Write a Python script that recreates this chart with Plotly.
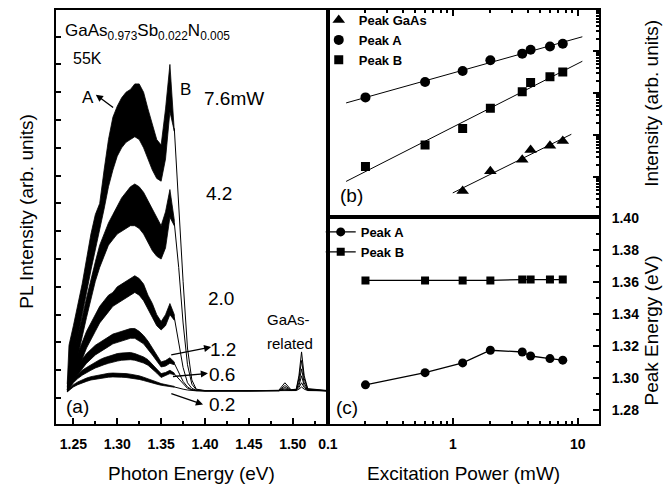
import numpy as np
import plotly.graph_objects as go

W, H = 664, 487
FONT = "Liberation Sans, Arial, sans-serif"

def X(px):
    return px / W

def Y(py):
    return 1 - py / H

# ---------------- (a) PL spectra ----------------
E_band = [1.243, 1.245, 1.25, 1.255, 1.26, 1.265, 1.27, 1.275, 1.28, 1.285, 1.29, 1.295, 1.30,
          1.305, 1.31, 1.315, 1.32, 1.325, 1.33, 1.335, 1.34, 1.345, 1.35, 1.355, 1.36, 1.365]

up_76 = [0.5, 1.9, 2.6, 3.3, 4.1, 5.0, 5.9, 6.6, 7.0, 8.2, 9.3, 10.1, 10.5, 10.8, 11.0, 11.1, 11.3, 11.3, 11.0, 10.4, 9.8, 9.3, 9.1, 10.4, 12.0, 9.8]
lo_76 = [0.3, 0.6, 1.4, 2.2, 3.0, 3.8, 4.6, 5.4, 6.1, 6.8, 7.6, 8.2, 8.7, 9.0, 9.2, 9.3, 9.4, 9.3, 9.0, 8.6, 8.2, 7.9, 7.8, 8.6, 10.3, 9.6]
up_42 = [0.4, 1.0, 1.6, 2.2, 2.9, 3.6, 4.3, 4.9, 5.5, 5.9, 6.3, 6.6, 6.9, 7.2, 7.4, 7.6, 7.7, 7.6, 7.4, 7.1, 6.8, 6.5, 6.2, 6.7, 7.5, 6.4]
lo_42 = [0.3, 0.45, 0.95, 1.5, 2.2, 2.9, 3.6, 4.2, 4.7, 5.1, 5.5, 5.7, 5.9, 6.0, 6.1, 6.2, 6.2, 6.1, 5.9, 5.6, 5.3, 5.1, 5.0, 5.4, 6.5, 6.2]
up_20 = [0.35, 0.7, 1.2, 1.6, 2.0, 2.4, 2.7, 3.0, 3.3, 3.5, 3.7, 3.8, 4.0, 4.1, 4.2, 4.3, 4.4, 4.3, 4.1, 3.7, 3.4, 3.0, 2.75, 3.0, 3.4, 3.0]
lo_20 = [0.25, 0.4, 0.7, 1.0, 1.4, 1.8, 2.1, 2.4, 2.7, 2.9, 3.1, 3.3, 3.4, 3.5, 3.6, 3.7, 3.8, 3.7, 3.5, 3.2, 2.9, 2.6, 2.45, 2.6, 3.0, 2.8]
up_12 = [0.3, 0.5, 0.9, 1.15, 1.4, 1.6, 1.75, 1.9, 2.0, 2.1, 2.2, 2.3, 2.35, 2.4, 2.45, 2.5, 2.5, 2.4, 2.25, 2.05, 1.8, 1.55, 1.3, 1.35, 1.45, 1.3]
lo_12 = [0.25, 0.35, 0.65, 0.85, 1.05, 1.25, 1.4, 1.55, 1.65, 1.75, 1.85, 1.95, 2.0, 2.05, 2.1, 2.15, 2.15, 2.05, 1.95, 1.75, 1.55, 1.35, 1.12, 1.15, 1.25, 1.2]
up_06 = [0.28, 0.4, 0.7, 0.85, 1.0, 1.1, 1.2, 1.3, 1.38, 1.45, 1.5, 1.55, 1.6, 1.62, 1.64, 1.64, 1.6, 1.55, 1.48, 1.38, 1.22, 1.05, 0.88, 0.92, 1.0, 0.9]
lo_06 = [0.22, 0.3, 0.55, 0.7, 0.82, 0.92, 1.0, 1.08, 1.15, 1.2, 1.25, 1.3, 1.33, 1.36, 1.38, 1.38, 1.36, 1.32, 1.26, 1.18, 1.05, 0.9, 0.74, 0.8, 0.88, 0.84]
up_02 = [0.25, 0.32, 0.48, 0.58, 0.66, 0.72, 0.77, 0.8, 0.84, 0.87, 0.89, 0.9, 0.9, 0.89, 0.88, 0.86, 0.84, 0.8, 0.75, 0.7, 0.64, 0.58, 0.52, 0.48, 0.45, 0.42]
lo_02 = [0.22, 0.26, 0.4, 0.48, 0.55, 0.6, 0.65, 0.68, 0.7, 0.73, 0.75, 0.76, 0.76, 0.75, 0.74, 0.72, 0.7, 0.67, 0.63, 0.6, 0.55, 0.5, 0.46, 0.43, 0.41, 0.39]

E_tail = [1.365, 1.37, 1.375, 1.38, 1.385, 1.39, 1.40, 1.45, 1.484, 1.491, 1.498, 1.504, 1.507, 1.510, 1.513, 1.517, 1.54]
tail_76 = [9.7, 6.9, 4.2, 1.8, 0.65, 0.32, 0.27, 0.26, 0.28, 0.55, 0.3, 0.32, 0.8, 1.66, 0.8, 0.34, 0.27]
tail_42 = [6.3, 4.7, 2.7, 1.2, 0.5, 0.3, 0.26, 0.26, 0.27, 0.45, 0.29, 0.31, 0.7, 1.35, 0.7, 0.32, 0.26]
tail_20 = [2.9, 2.0, 1.1, 0.55, 0.35, 0.28, 0.26, 0.26, 0.27, 0.38, 0.28, 0.3, 0.55, 1.05, 0.55, 0.3, 0.26]
tail_12 = [1.25, 0.95, 0.6, 0.4, 0.3, 0.27, 0.26, 0.26, 0.27, 0.33, 0.27, 0.29, 0.45, 0.8, 0.45, 0.29, 0.26]
tail_06 = [0.87, 0.7, 0.5, 0.35, 0.3, 0.27, 0.26, 0.26, 0.26, 0.3, 0.27, 0.28, 0.38, 0.55, 0.38, 0.28, 0.26]
tail_02 = [0.4, 0.35, 0.32, 0.29, 0.27, 0.26, 0.26, 0.26, 0.26, 0.28, 0.26, 0.27, 0.32, 0.4, 0.32, 0.27, 0.26]

spectra = [(up_76, lo_76, tail_76), (up_42, lo_42, tail_42), (up_20, lo_20, tail_20),
           (up_12, lo_12, tail_12), (up_06, lo_06, tail_06), (up_02, lo_02, tail_02)]

energy_ticks = [1.25, 1.30, 1.35, 1.40, 1.45, 1.50]
energy_minor = [1.275, 1.325, 1.375, 1.425, 1.475, 1.525]

# ---------------- (b),(c) power dependence ----------------
power = [0.2, 0.6, 1.2, 2.0, 3.6, 4.2, 6.0, 7.6]
int_A = [800, 1870, 3390, 6150, 8830, 10960, 13090, 15170]
int_B = [18, 59, 145, 443, 1090, 1800, 2500, 3210]
power_gaas = [1.2, 2.0, 3.6, 4.2, 6.0, 7.6]
int_gaas = [4.7, 13.9, 26.2, 45.0, 56.8, 73.1]
fit_range_AB = [0.14, 10.9]
fit_range_gaas = [1.0, 8.9]

energy_A = [1.2958, 1.3034, 1.3095, 1.3174, 1.3163, 1.3138, 1.3122, 1.3112]
energy_B = [1.361, 1.361, 1.361, 1.361, 1.3615, 1.3615, 1.3615, 1.3615]

power_ticks = [0.1, 1, 10]
power_ticktext = ["0.1", "1", "10"]
power_minor = [0.2, 0.3, 0.4, 0.5, 0.6, 0.7, 0.8, 0.9, 2, 3, 4, 5, 6, 7, 8, 9]
int_major = [1, 10, 100, 1000, 10000]
int_minor = [m * d for d in [1, 10, 100, 1000, 10000] for m in range(2, 10)]
pe_ticks = [1.28, 1.30, 1.32, 1.34, 1.36, 1.38, 1.40]

fig = go.Figure()

for up, lo, tail in spectra:
    fig.add_trace(go.Scatter(x=E_band + E_band[::-1], y=up + lo[::-1], fill="toself",
                             fillcolor="black", mode="lines", line=dict(color="black", width=0.8),
                             showlegend=False, xaxis="x", yaxis="y", hoverinfo="skip"))
    fig.add_trace(go.Scatter(x=E_tail, y=tail, mode="lines", line=dict(color="black", width=1),
                             showlegend=False, xaxis="x", yaxis="y", hoverinfo="skip"))

# fits (log-log)
def fit_line(px_, py_, rng):
    k, b = np.polyfit(np.log10(px_), np.log10(py_), 1)
    xs = np.array(rng)
    return xs, 10 ** (k * np.log10(xs) + b)

for px_, py_, rng in [(power, int_A, fit_range_AB), (power, int_B, fit_range_AB),
                      (power_gaas, int_gaas, fit_range_gaas)]:
    fx, fy = fit_line(px_, py_, rng)
    fig.add_trace(go.Scatter(x=fx, y=fy, mode="lines", line=dict(color="black", width=1),
                             showlegend=False, xaxis="x2", yaxis="y2"))

fig.add_trace(go.Scatter(x=power_gaas, y=int_gaas, mode="markers", name="Peak GaAs",
                         marker=dict(symbol="triangle-up", size=11, color="black"),
                         xaxis="x2", yaxis="y2", legend="legend"))
fig.add_trace(go.Scatter(x=power, y=int_A, mode="markers", name="Peak A",
                         marker=dict(symbol="circle", size=10, color="black"),
                         xaxis="x2", yaxis="y2", legend="legend"))
fig.add_trace(go.Scatter(x=power, y=int_B, mode="markers", name="Peak B",
                         marker=dict(symbol="square", size=9, color="black"),
                         xaxis="x2", yaxis="y2", legend="legend"))

fig.add_trace(go.Scatter(x=power, y=energy_A, mode="lines+markers", name="Peak A",
                         marker=dict(symbol="circle", size=9, color="black"),
                         line=dict(color="black", width=1.3),
                         xaxis="x3", yaxis="y3", legend="legend2"))
fig.add_trace(go.Scatter(x=power, y=energy_B, mode="lines+markers", name="Peak B",
                         marker=dict(symbol="square", size=8, color="black"),
                         line=dict(color="black", width=1.3),
                         xaxis="x3", yaxis="y3", legend="legend2"))

axis_common = dict(showline=True, linecolor="black", linewidth=2, mirror=True,
                   showgrid=False, zeroline=False, ticks="inside", tickcolor="black",
                   tickwidth=1.5)
tickfont = dict(family=FONT, size=14, color="black", weight="bold")
legfont = dict(family=FONT, size=13, color="black", weight="bold")

fig.update_layout(
    width=W, height=H, margin=dict(l=0, r=0, t=0, b=0),
    paper_bgcolor="white", plot_bgcolor="white",
    font=dict(family=FONT, color="black"),
    xaxis=dict(domain=[X(48), X(323)], range=[1.2306, 1.5397], anchor="y",
               tickvals=energy_ticks, ticktext=[f"{v:.2f}" for v in energy_ticks],
               ticklen=6, tickfont=tickfont, ticklabelstandoff=6,
               minor=dict(tickvals=energy_minor, ticklen=3, ticks="inside", tickcolor="black", tickwidth=1.5),
               **axis_common),
    yaxis=dict(domain=[Y(423), Y(3)], range=[-0.93, 13.96], anchor="x",
               tickvals=list(range(0, 14)), ticklen=5, showticklabels=False, **axis_common),
    xaxis2=dict(domain=[X(323), X(598)], type="log", range=[-1.002, 1.17], anchor="y2", side="top",
                tickvals=power_ticks, ticklen=6, showticklabels=False,
                minor=dict(tickvals=power_minor, ticklen=3, ticks="inside", tickcolor="black", tickwidth=1.5),
                **axis_common),
    yaxis2=dict(domain=[Y(213), Y(3)], type="log", range=[0.056, 4.986], anchor="x2", side="right",
                tickvals=int_major, ticklen=6, showticklabels=False,
                minor=dict(tickvals=int_minor, ticklen=3, ticks="inside", tickcolor="black", tickwidth=1.5),
                **axis_common),
    xaxis3=dict(domain=[X(323), X(598)], type="log", range=[-1.002, 1.17], anchor="y3",
                tickvals=power_ticks, ticktext=power_ticktext, ticklen=6, tickfont=tickfont,
                ticklabelstandoff=6,
                minor=dict(tickvals=power_minor, ticklen=3, ticks="inside", tickcolor="black", tickwidth=1.5),
                **axis_common),
    yaxis3=dict(domain=[Y(423), Y(213)], range=[1.2714, 1.4006], anchor="x3", side="right",
                tickvals=pe_ticks, ticktext=[f"{v:.2f}" for v in pe_ticks], ticklen=6,
                tickfont=tickfont, ticklabelstandoff=8,
                minor=dict(dtick=0.01, tick0=1.27, ticklen=3, ticks="inside", tickcolor="black", tickwidth=1.5),
                **axis_common),
    legend=dict(x=X(314), y=Y(-2), xanchor="left", yanchor="top", bgcolor="rgba(0,0,0,0)",
                font=legfont, tracegroupgap=0),
    legend2=dict(x=X(316), y=Y(213), xanchor="left", yanchor="top", bgcolor="rgba(0,0,0,0)",
                 font=legfont, tracegroupgap=0),
)

def txt(text, x, y, size, xanchor="center", angle=0, weight="normal"):
    fig.add_annotation(text=text, x=X(x), y=Y(y), xref="paper", yref="paper", showarrow=False,
                       xanchor=xanchor, yanchor="middle", textangle=angle,
                       font=dict(family=FONT, size=size, color="black", weight=weight))

def arrow(hx, hy, tx, ty):
    fig.add_annotation(text=" ", x=X(hx), y=Y(hy), xref="paper", yref="paper", showarrow=True,
                       ax=tx - hx, ay=ty - hy, arrowhead=2, arrowsize=1.1, arrowwidth=1.3,
                       arrowcolor="black", standoff=0, font=dict(size=2))

txt("GaAs<sub>0.973</sub>Sb<sub>0.022</sub>N<sub>0.005</sub>", 55, 25, 17, xanchor="left")
txt("55K", 80, 52.5, 16)
txt("A", 80, 92, 17)
txt("B", 179, 84, 17)
txt("7.6mW", 228, 92.5, 19)
txt("4.2", 213.3, 189, 19)
txt("2.0", 215, 296, 19)
txt("1.2", 217, 348, 19)
txt("0.6", 216, 373, 19)
txt("0.2", 215.5, 403.5, 19)
txt("GaAs-", 283, 317.5, 15)
txt("related", 285, 341, 15)
txt("(a)", 69, 405, 19)
txt("(b)", 346.7, 191, 19)
txt("(c)", 342.5, 406, 19)

arrow(88, 89, 107.3, 103.3)
arrow(205, 345, 163, 353.3)
arrow(201.7, 371.7, 164.7, 375)
arrow(196.7, 403.3, 163, 391.7)

txt("PL Intensity (arb. units)", 17, 207, 19, angle=-90)
txt("Photon Energy (eV)", 185, 473, 19)
txt("Excitation Power (mW)", 461, 473, 19)
txt("Intensity (arb. units)", 651, 98, 19, angle=-90)
txt("Peak Energy (eV)", 651, 328, 19, angle=-90)

fig.write_html("out.html")
